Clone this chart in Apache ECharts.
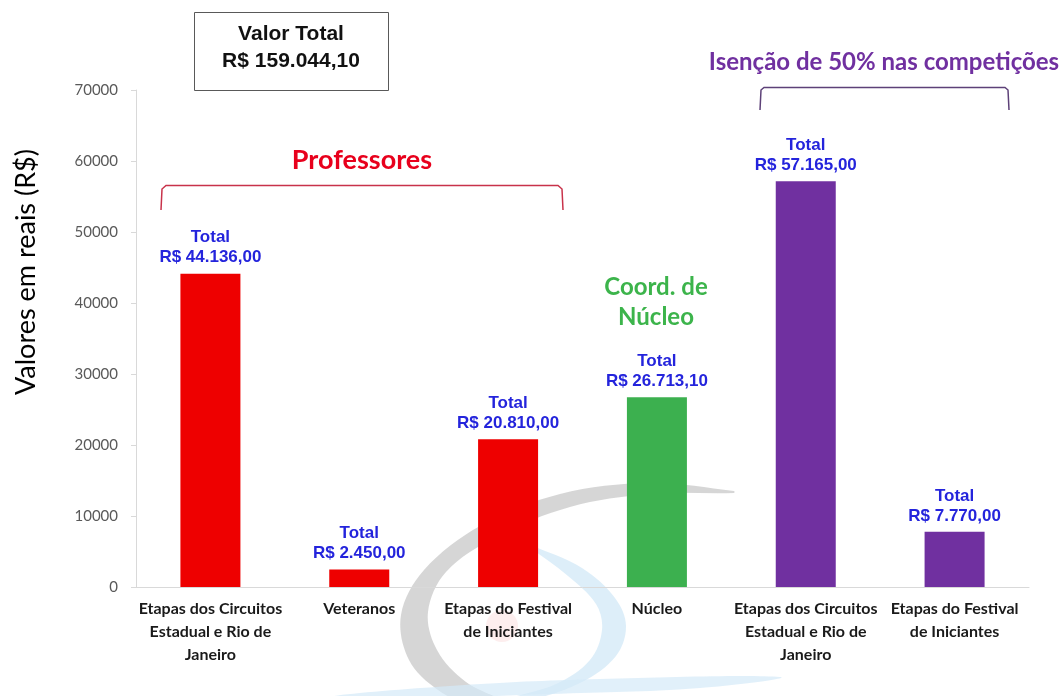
<!DOCTYPE html>
<html>
<head>
<meta charset="utf-8">
<script src="https://cdn.jsdelivr.net/npm/echarts@6/dist/echarts.min.js"></script>
<style>
  html, body { margin: 0; padding: 0; background: #ffffff; }
  #chart { width: 1063px; height: 696px; }
</style>
</head>
<body>
<div id="chart"></div>
<script>
// Categories (line breaks as shown under each bar)
const categories = [
  'Etapas dos Circuitos\nEstadual e Rio de\nJaneiro',
  'Veteranos',
  'Etapas do Festival\nde Iniciantes',
  'Núcleo',
  'Etapas dos Circuitos\nEstadual e Rio de\nJaneiro',
  'Etapas do Festival\nde Iniciantes'
];
// Amounts in R$
const values = [44136.00, 2450.00, 20810.00, 26713.10, 57165.00, 7770.00];
// Which group each bar belongs to
const groups = ['prof', 'prof', 'prof', 'coord', 'isencao', 'isencao'];
// Value axis range
const yMin = 0;
const yMax = 70000;
const yStep = 10000;

const groupColors = { prof: '#ee0000', coord: '#3cb04f', isencao: '#7030a0' };

// Brazilian currency format: R$ 44.136,00
function brl(v) {
  const parts = v.toFixed(2).split('.');
  return 'R$ ' + parts[0].replace(/\B(?=(\d{3})+(?!\d))/g, '.') + ',' + parts[1];
}

const total = values.reduce((s, v) => s + v, 0);

// Faint logo watermark behind the plot
const watermark = [
  {
    type: 'polygon', z: -5, silent: true,
    shape: {
      smooth: 0.35,
      points: [
        [734, 491], [650, 483], [560, 494], [480, 526], [424, 570], [401, 615],
        [409, 660], [438, 690], [470, 704],
        [508, 704], [466, 682], [437, 650], [428, 612], [446, 572], [496, 537],
        [570, 507], [650, 494], [734, 493]
      ]
    },
    style: { fill: '#c4c4c4', opacity: 0.7 }
  },
  {
    type: 'polygon', z: -5, silent: true,
    shape: {
      smooth: 0.35,
      points: [
        [530, 545], [582, 568], [615, 598], [626, 626], [616, 656], [582, 682], [530, 700],
        [505, 700], [556, 684], [590, 660], [602, 630], [596, 604], [568, 576], [530, 547]
      ]
    },
    style: { fill: '#d4eaf8', opacity: 0.8 }
  },
  {
    type: 'polygon', z: -5, silent: true,
    shape: {
      smooth: 0.4,
      points: [
        [330, 697], [450, 686], [600, 679], [780, 677], [700, 688], [550, 694], [420, 698]
      ]
    },
    style: { fill: '#d4eaf8', opacity: 0.7 }
  },
  {
    type: 'circle', z: -5, silent: true,
    shape: { cx: 502, cy: 626, r: 16 },
    style: { fill: '#fbdede', opacity: 0.5 }
  }
];

const annotations = [
  // Y axis title
  {
    type: 'text', x: 26, y: 272, rotation: Math.PI / 2,
    style: {
      text: 'Valores em reais (R$)', fill: '#000000',
      font: 'normal 27px Lato', align: 'center', verticalAlign: 'middle'
    }
  },
  // Grand total box
  {
    type: 'rect', shape: { x: 194.5, y: 12.5, width: 194, height: 78 },
    style: { fill: '#ffffff', stroke: '#595959', lineWidth: 1 }
  },
  {
    type: 'text', x: 291, y: 48,
    style: {
      text: 'Valor Total\n' + brl(total), fill: '#111111',
      font: 'bold 21px "Liberation Sans"', lineHeight: 27,
      align: 'center', verticalAlign: 'middle'
    }
  },
  // Professores group
  {
    type: 'text', x: 362, y: 160,
    style: {
      text: 'Professores', fill: '#e8001c',
      font: 'bold 27px Lato', align: 'center', verticalAlign: 'middle'
    }
  },
  {
    type: 'polyline',
    shape: { points: [[161, 210], [162, 189], [166, 185.5], [558, 185.5], [562, 189], [563, 210]] },
    style: { stroke: '#c8324a', lineWidth: 1.5, fill: null }
  },
  // Coordenação de núcleo
  {
    type: 'text', x: 656, y: 302,
    style: {
      text: 'Coord. de\nNúcleo', fill: '#3cb44b',
      font: 'bold 24px Lato', lineHeight: 30, align: 'center', verticalAlign: 'middle'
    }
  },
  // Isenção group
  {
    type: 'text', x: 884, y: 62,
    style: {
      text: 'Isenção de 50% nas competições', fill: '#7030a0',
      font: 'bold 24px Lato', align: 'center', verticalAlign: 'middle'
    }
  },
  {
    type: 'polyline',
    shape: { points: [[760, 110], [761, 90], [764, 87.5], [1005, 87.5], [1008, 90], [1009, 110]] },
    style: { stroke: '#5d4178', lineWidth: 1.5, fill: null }
  }
];

const chart = echarts.init(document.getElementById('chart'));
chart.setOption({
  animation: false,
  grid: { left: 136, right: 34, top: 90, bottom: 109 },
  xAxis: {
    type: 'category',
    data: categories,
    axisLine: { show: true, lineStyle: { color: '#d9d9d9', width: 1 } },
    axisTick: { show: false },
    axisLabel: {
      interval: 0, color: '#1a1a1a', fontFamily: 'Lato', fontWeight: 'bold',
      fontSize: 16, lineHeight: 23, margin: 10
    }
  },
  yAxis: {
    type: 'value',
    min: yMin, max: yMax, interval: yStep,
    axisLine: { show: true, lineStyle: { color: '#d9d9d9', width: 1 } },
    axisTick: { show: true, length: 5, lineStyle: { color: '#d9d9d9' } },
    splitLine: { show: false },
    axisLabel: {
      color: '#595959', fontFamily: 'Lato', fontSize: 15, margin: 18,
      formatter: v => String(v)
    }
  },
  series: [{
    type: 'bar',
    data: values,
    barWidth: 60,
    itemStyle: { color: p => groupColors[groups[p.dataIndex]] },
    label: {
      show: true,
      position: 'top',
      distance: 6,
      formatter: p => '{t|Total}\n{v|' + brl(p.value) + '}',
      rich: {
        t: { color: '#2424dc', fontFamily: 'Liberation Sans', fontWeight: 'bold', fontSize: 17, lineHeight: 20, align: 'center' },
        v: { color: '#2424dc', fontFamily: 'Liberation Sans', fontWeight: 'bold', fontSize: 17, lineHeight: 20, align: 'center' }
      }
    }
  }],
  graphic: { elements: watermark.concat(annotations) }
});
</script>
</body>
</html>
